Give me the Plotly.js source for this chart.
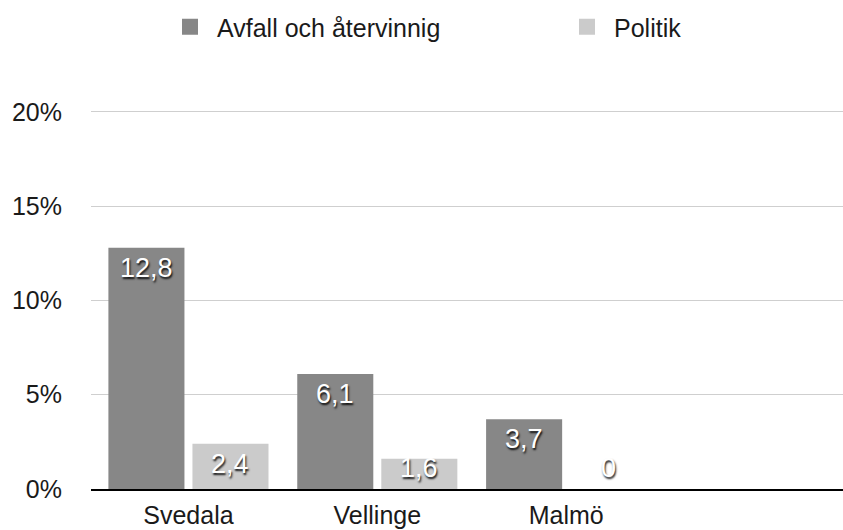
<!DOCTYPE html>
<html>
<head>
<meta charset="utf-8">
<script src="https://cdn.plot.ly/plotly-3.0.1.min.js"></script>
<style>html,body{margin:0;padding:0;background:#fff;}#chart{width:843px;height:530px;}</style>
</head>
<body>
<div id="chart"></div>
<script>
const categories = ['Svedala', 'Vellinge', 'Malmö'];
const seriesNames = ['Avfall och återvinnig', 'Politik'];
const avfall = [12.8, 6.1, 3.7];
const politik = [2.4, 1.6, 0];
const yTicks = [0, 5, 10, 15, 20];
const yTickText = ['0%', '5%', '10%', '15%', '20%'];

const colors = ['#878787', '#cbcbcb'];
const FONT = 'Liberation Sans, Arial, Helvetica, sans-serif';
const fmt = v => String(v).replace('.', ',');

const series = [avfall, politik];
const legendIds = ['legend', 'legend2'];
const traces = [];
series.forEach((vals, i) => {
  traces.push({
    type: 'bar', x: categories, y: vals, name: seriesNames[i],
    marker: {color: colors[i]}, showlegend: false, hoverinfo: 'skip'
  });
});
series.forEach((vals, i) => {
  traces.push({
    type: 'scatter', mode: 'markers', x: [null], y: [null], name: seriesNames[i],
    legend: legendIds[i],
    marker: {symbol: 'square', size: 16, color: colors[i]}, showlegend: true, hoverinfo: 'skip'
  });
});

const minLabelY = 2.2;
const annotations = [];
series.forEach((vals, i) => {
  vals.forEach((v, j) => {
    annotations.push({
      x: categories[j], y: Math.max(v, minLabelY), xref: 'x', yref: 'y',
      text: fmt(v), showarrow: false, yanchor: 'top', xanchor: 'center',
      xshift: i === 0 ? -42 : 42, yshift: -3,
      font: {family: FONT, size: 27, color: '#ffffff', shadow: '1px 2px 2px rgba(0,0,0,0.9)'}
    });
  });
});

const legendBase = {
  orientation: 'h', xref: 'container', yref: 'container',
  y: 1 - 4 / 530, xanchor: 'left', yanchor: 'top', itemwidth: 44,
  font: {family: FONT, size: 25, color: '#1a1a1a'}, bgcolor: 'rgba(0,0,0,0)'
};

const layout = {
  width: 843, height: 530,
  margin: {l: 91, r: 0, t: 110, b: 41},
  paper_bgcolor: '#ffffff', plot_bgcolor: '#ffffff',
  font: {family: FONT, color: '#1a1a1a', size: 25},
  barmode: 'group', bargap: 0.11, bargroupgap: 0.095,
  xaxis: {
    type: 'category', range: [-0.516, 3.466], showgrid: false, zeroline: false,
    showline: true, linecolor: '#000000', linewidth: 2,
    ticks: 'outside', ticklen: 3, tickcolor: 'rgba(0,0,0,0)',
    tickfont: {family: FONT, size: 25, color: '#1a1a1a'}, fixedrange: true
  },
  yaxis: {
    range: [0, 20.1], tickvals: yTicks, ticktext: yTickText,
    showgrid: true, gridcolor: '#cfcfcf', gridwidth: 1, zeroline: false, showline: false,
    ticks: 'outside', ticklen: 23, tickcolor: 'rgba(0,0,0,0)',
    tickfont: {family: FONT, size: 25, color: '#1a1a1a'}, fixedrange: true
  },
  showlegend: true,
  legend: Object.assign({}, legendBase, {x: 163 / 843}),
  legend2: Object.assign({}, legendBase, {x: 560 / 843}),
  annotations: annotations
};

Plotly.newPlot('chart', traces, layout, {displayModeBar: false, staticPlot: true});
</script>
</body>
</html>
